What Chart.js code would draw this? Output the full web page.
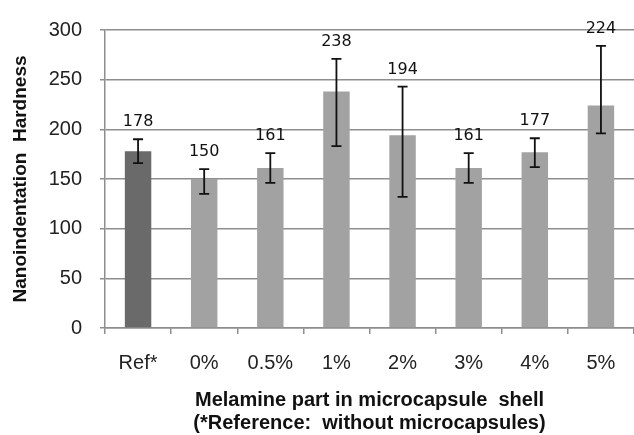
<!DOCTYPE html>
<html>
<head>
<meta charset="utf-8">
<script src="https://cdn.jsdelivr.net/npm/chart.js@4.4.1/dist/chart.umd.min.js"></script>
<style>
  html, body { margin: 0; padding: 0; background: #fff; overflow: hidden; }
  #wrap { width: 634px; height: 435px; position: relative; }
</style>
</head>
<body>
<div id="wrap"><canvas id="c" width="634" height="435"></canvas></div>
<script>
// ---- data ----
const categories = ['Ref*', '0%', '0.5%', '1%', '2%', '3%', '4%', '5%'];
const hardness   = [178, 150, 161, 238, 194, 161, 177, 224];
const errUpper   = [190, 160, 176, 271, 243, 176, 191, 284];
const errLower   = [166, 135, 146, 183, 132, 146, 162, 196];
const yTicks     = [0, 50, 100, 150, 200, 250, 300];

// ---- styles ----
const barColors = categories.map((c, i) => i === 0 ? '#6a6a6a' : '#a2a2a2');
const gridColor = '#8e8e8e';

const errorBarPlugin = {
  id: 'errorBars',
  afterDatasetsDraw(chart) {
    const ctx = chart.ctx;
    const meta = chart.getDatasetMeta(0);
    const y = chart.scales.y;
    ctx.save();
    ctx.strokeStyle = '#111';
    ctx.lineWidth = 1.8;
    const cap = 5;
    meta.data.forEach((bar, i) => {
      const x = bar.x;
      const yt = y.getPixelForValue(errUpper[i]);
      const yb = y.getPixelForValue(errLower[i]);
      ctx.beginPath();
      ctx.moveTo(x, yt); ctx.lineTo(x, yb);
      ctx.moveTo(x - cap, yt); ctx.lineTo(x + cap, yt);
      ctx.moveTo(x - cap, yb); ctx.lineTo(x + cap, yb);
      ctx.stroke();
    });
    // value labels above the error bars
    ctx.fillStyle = '#111';
    ctx.font = '16px "DejaVu Sans", Verdana, sans-serif';
    ctx.textAlign = 'center';
    ctx.textBaseline = 'middle';
    meta.data.forEach((bar, i) => {
      const yt = y.getPixelForValue(errUpper[i]);
      ctx.fillText(String(hardness[i]), bar.x, yt - 17);
    });
    ctx.restore();
  }
};

new Chart(document.getElementById('c'), {
  type: 'bar',
  data: {
    labels: categories,
    datasets: [{
      data: hardness,
      backgroundColor: barColors,
      borderWidth: 0,
      barPercentage: 0.4,
      categoryPercentage: 1.0
    }]
  },
  options: {
    responsive: false,
    animation: false,
    devicePixelRatio: 1,
    layout: { padding: { top: 29, right: 0, left: 0, bottom: 0 } },
    plugins: { legend: { display: false }, tooltip: { enabled: false } },
    scales: {
      x: {
        offset: true,
        grid: { display: true, drawOnChartArea: false, drawTicks: true, tickLength: 6, offset: true, color: gridColor, lineWidth: 1.5 },
        border: { display: true, color: gridColor, width: 1.5 },
        ticks: { color: '#222', font: { family: '"Liberation Sans", Arial, sans-serif', size: 20 }, padding: 17, maxRotation: 0 },
        title: {
          display: true,
          text: ['Melamine part in microcapsule  shell', '(*Reference:  without microcapsules)'],
          color: '#111',
          font: { family: '"Liberation Sans", Arial, sans-serif', size: 20, weight: 'bold', lineHeight: 1.15 },
          padding: { top: 0, bottom: 0 }
        },
        afterFit(scale) { scale.height = 107; }
      },
      y: {
        min: 0, max: 300,
        afterBuildTicks(scale) { scale.ticks = yTicks.map(v => ({ value: v })); },
        grid: { color: gridColor, lineWidth: 1.5, drawTicks: true, tickLength: 5 },
        border: { display: true, color: gridColor, width: 1.5 },
        ticks: { color: '#222', font: { family: '"Liberation Sans", Arial, sans-serif', size: 20 }, padding: 18 },
        title: {
          display: true,
          text: 'Nanoindentation  Hardness',
          color: '#111',
          font: { family: '"Liberation Sans", Arial, sans-serif', size: 19, weight: 'bold', lineHeight: 1.2 },
          padding: { top: 9, bottom: 0 }
        },
        afterFit(scale) { scale.width = 105; }
      }
    }
  },
  plugins: [errorBarPlugin]
});
</script>
</body>
</html>
